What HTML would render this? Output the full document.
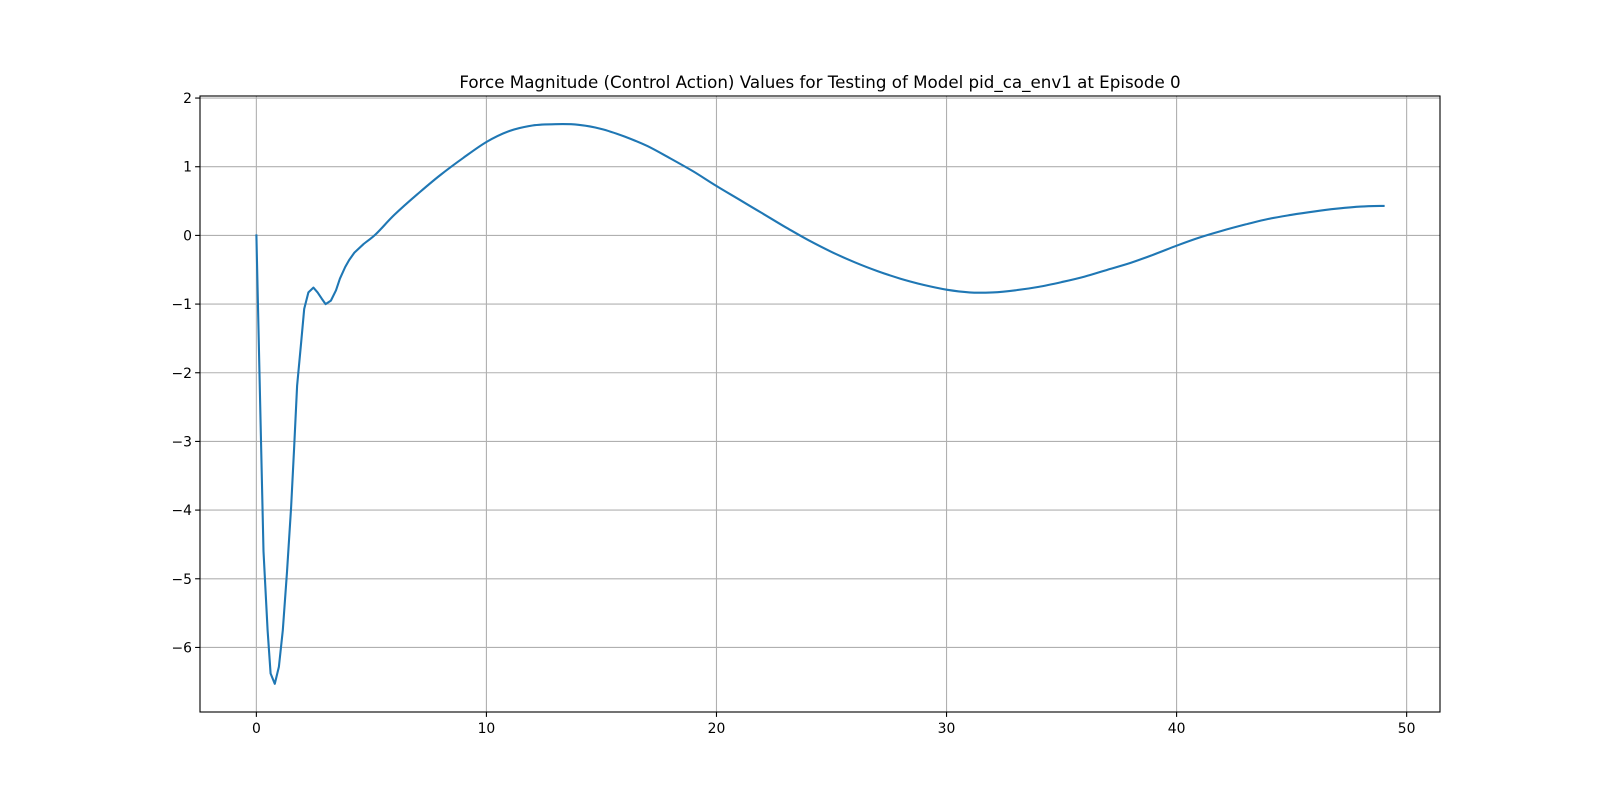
<!DOCTYPE html>
<html><head><meta charset="utf-8"><style>
html,body{margin:0;padding:0;background:#fff;}
svg text{font-family:"DejaVu Sans","Liberation Sans",sans-serif;fill:#000;}
</style></head><body>
<svg id="chart" width="1600" height="800" xmlns="http://www.w3.org/2000/svg">
<rect width="1600" height="800" fill="#fff"/>
<text x="820" y="88" font-size="16.7" text-anchor="middle">Force Magnitude (Control Action) Values for Testing of Model pid_ca_env1 at Episode 0</text>
<g id="grid"></g>
<g id="series"></g>
<rect x="200" y="96" width="1240" height="616" fill="none" stroke="#000" stroke-width="1.1"/>
<g id="ticks"></g>
</svg>
<script>
const xs = [0,0.18,0.31,0.49,0.62,0.8,0.98,1.15,1.33,1.51,1.64,1.77,1.95,2.08,2.26,2.48,2.66,2.84,3.01,3.24,3.46,3.63,3.86,4.03,4.26,4.65,5.2,6,7,8,9,10,11,12,13,14,15,16,17,18,19,20,21,22,23,24,25,26,27,28,29,30,31,32,33,34,35,36,37,38,39,40,41,42,43,44,45,46,47,48,49];
const ys = [0,-2.67,-4.6,-5.75,-6.38,-6.53,-6.28,-5.75,-4.9,-3.96,-3.1,-2.19,-1.55,-1.07,-0.83,-0.76,-0.83,-0.92,-1.0,-0.95,-0.8,-0.63,-0.46,-0.36,-0.25,-0.13,0.02,0.3,0.6,0.88,1.13,1.36,1.52,1.6,1.62,1.61,1.55,1.44,1.3,1.12,0.93,0.72,0.52,0.32,0.12,-0.07,-0.24,-0.39,-0.52,-0.63,-0.72,-0.79,-0.83,-0.83,-0.8,-0.75,-0.68,-0.6,-0.5,-0.4,-0.28,-0.15,-0.03,0.07,0.16,0.24,0.3,0.35,0.39,0.42,0.43];
const xTicks = [0,10,20,30,40,50];
const yTicks = [-6,-5,-4,-3,-2,-1,0,1,2];
const L=200,R=1440,T=96,B=712;
const xmin=-2.45,xmax=51.45,ymin=-6.94,ymax=2.03;
const sx=v=>L+(v-xmin)/(xmax-xmin)*(R-L);
const sy=v=>B-(v-ymin)/(ymax-ymin)*(B-T);
const NS='http://www.w3.org/2000/svg';
const grid=document.getElementById('grid'),ticks=document.getElementById('ticks'),series=document.getElementById('series');
function mk(tag,attrs,parent){const e=document.createElementNS(NS,tag);for(const k in attrs)e.setAttribute(k,attrs[k]);parent.appendChild(e);return e;}
xTicks.forEach(v=>{const x=sx(v);
 const g=mk('line',{x1:x,x2:x,y1:T,y2:B,stroke:'#b0b0b0','stroke-width':1.1},grid);
 
 
 const t=mk('line',{x1:x,x2:x,y1:B,y2:B+4.9,stroke:'#000','stroke-width':1.1},ticks);
 
 
 const l=mk('text',{x:x,y:B+21,'font-size':13.9,'text-anchor':'middle'},ticks);
 l.textContent=String(v);
 
 
});
yTicks.forEach(v=>{const y=sy(v);
 const g=mk('line',{x1:L,x2:R,y1:y,y2:y,stroke:'#b0b0b0','stroke-width':1.1},grid);
 
 
 const t=mk('line',{x1:L-4.9,x2:L,y1:y,y2:y,stroke:'#000','stroke-width':1.1},ticks);
 
 
 const l=mk('text',{x:L-8,y:y+5,'font-size':13.9,'text-anchor':'end'},ticks);
 l.textContent=(v<0?'\u2212'+(-v):String(v));
 
 
});
// smooth path through points (Catmull-Rom) for the gently-varying tail
const P=xs.map((x,i)=>[sx(x),sy(ys[i])]);
let d='M'+P[0][0].toFixed(1)+','+P[0][1].toFixed(1);
for(let i=0;i<P.length-1;i++){
 const p0=P[Math.max(0,i-1)],p1=P[i],p2=P[i+1],p3=P[Math.min(P.length-1,i+2)];
 if(xs[i]<4.6){d+=' L'+p2[0].toFixed(1)+','+p2[1].toFixed(1);continue;}
 const c1=[p1[0]+(p2[0]-p0[0])/6,p1[1]+(p2[1]-p0[1])/6];
 const c2=[p2[0]-(p3[0]-p1[0])/6,p2[1]-(p3[1]-p1[1])/6];
 d+=' C'+c1[0].toFixed(1)+','+c1[1].toFixed(1)+' '+c2[0].toFixed(1)+','+c2[1].toFixed(1)+' '+p2[0].toFixed(1)+','+p2[1].toFixed(1);
}
const pl=mk('path',{d:d,fill:'none',stroke:'#1f77b4','stroke-width':2.1,'stroke-linejoin':'round','stroke-linecap':'square'},series);


</script>
</body></html>
